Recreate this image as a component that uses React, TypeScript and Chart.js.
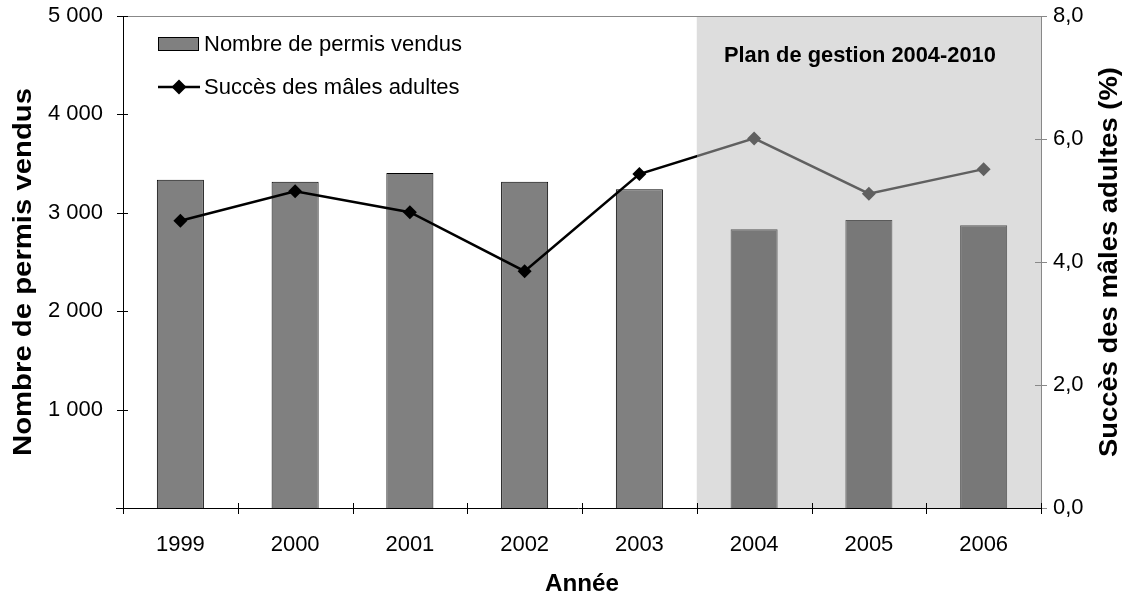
import React, { useEffect, useRef } from 'react';
import { Chart, registerables } from 'chart.js';

Chart.register(...registerables);

// ---- Data ----
const years = ['1999', '2000', '2001', '2002', '2003', '2004', '2005', '2006'];
const permisVendus = [3335, 3315, 3405, 3315, 3240, 2832, 2928, 2873];
const succesMales = [4.67, 5.15, 4.81, 3.85, 5.43, 6.01, 5.11, 5.51];
const leftMax = 5000;
const leftStep = 1000;
const rightMax = 8;
const rightStep = 2;
const seriesLabels = ['Nombre de permis vendus', 'Succès des mâles adultes'];
const xTitle = 'Année';
const yTitle = 'Nombre de permis vendus';
const y1Title = 'Succès des mâles adultes (%)';
const planLabel = 'Plan de gestion 2004-2010';
const planStartIndex = 5; // 2004

const FONT = '"Liberation Sans", Arial, sans-serif';
const BAR_OUT = '#808080';
const BAR_IN = '#787878';
const LINE_OUT = '#000000';
const LINE_IN = '#606060';

const barColors = years.map((_, i) => (i >= planStartIndex ? BAR_IN : BAR_OUT));
const barBorders = years.map((_, i) => (i >= planStartIndex ? '#5a5a5a' : '#000000'));
const pointColors = years.map((_, i) => (i >= planStartIndex ? LINE_IN : LINE_OUT));

function boundaryX(chart: any) {
  const x = chart.scales.x;
  return (x.getPixelForValue(planStartIndex - 1) + x.getPixelForValue(planStartIndex)) / 2;
}

function drawDiamond(ctx: CanvasRenderingContext2D, cx: number, cy: number, r: number, color: string) {
  ctx.beginPath();
  ctx.moveTo(cx, cy - r);
  ctx.lineTo(cx + r, cy);
  ctx.lineTo(cx, cy + r);
  ctx.lineTo(cx - r, cy);
  ctx.closePath();
  ctx.fillStyle = color;
  ctx.fill();
}

function drawText(
  ctx: CanvasRenderingContext2D,
  text: string,
  x: number,
  y: number,
  font: string,
  rotation: number,
  targetWidth?: number
) {
  ctx.save();
  ctx.font = font;
  ctx.fillStyle = '#000';
  ctx.textAlign = 'center';
  ctx.textBaseline = 'middle';
  ctx.translate(x, y);
  ctx.rotate(rotation);
  if (targetWidth) {
    const w = ctx.measureText(text).width;
    ctx.scale(targetWidth / w, 1);
  }
  ctx.fillText(text, 0, 0);
  ctx.restore();
}

const decor = {
  id: 'decor',
  beforeDatasetsDraw(chart: any) {
    const { ctx, chartArea: a } = chart;
    const bx = boundaryX(chart);
    ctx.save();
    ctx.fillStyle = '#dddddd';
    ctx.fillRect(bx, a.top, a.right - bx, a.bottom - a.top);
    ctx.restore();
  },
  afterDraw(chart: any) {
    const { ctx, chartArea: a, scales } = chart;
    const x = scales.x;
    const y = scales.y;
    const y1 = scales.y1;
    ctx.save();
    ctx.lineWidth = 1;
    // top and right borders (gray)
    ctx.strokeStyle = '#888888';
    ctx.beginPath();
    ctx.moveTo(a.left, a.top + 0.5);
    ctx.lineTo(a.right, a.top + 0.5);
    ctx.moveTo(a.right + 0.5, a.top);
    ctx.lineTo(a.right + 0.5, a.bottom);
    ctx.stroke();
    // right axis ticks
    y1.ticks.forEach((t: any) => {
      const py = Math.round(y1.getPixelForValue(t.value)) + 0.5;
      ctx.beginPath();
      ctx.moveTo(a.right - 6, py);
      ctx.lineTo(a.right + 6, py);
      ctx.stroke();
    });
    // left axis + bottom axis (black)
    ctx.strokeStyle = '#000000';
    ctx.beginPath();
    ctx.moveTo(a.left + 0.5, a.top);
    ctx.lineTo(a.left + 0.5, a.bottom);
    ctx.moveTo(a.left - 7, a.bottom + 0.5);
    ctx.lineTo(a.right, a.bottom + 0.5);
    ctx.stroke();
    y.ticks.forEach((t: any) => {
      const py = Math.round(y.getPixelForValue(t.value)) + 0.5;
      ctx.beginPath();
      ctx.moveTo(a.left - 6, py);
      ctx.lineTo(a.left + 5, py);
      ctx.stroke();
    });
    const half = (x.getPixelForValue(1) - x.getPixelForValue(0)) / 2;
    for (let i = 0; i <= years.length; i++) {
      const px = Math.round(x.getPixelForValue(i) - half) + 0.5;
      ctx.beginPath();
      ctx.moveTo(px, a.bottom - 5);
      ctx.lineTo(px, a.bottom + 6);
      ctx.stroke();
    }
    // legend
    ctx.fillStyle = BAR_OUT;
    ctx.fillRect(158, 37, 40, 13);
    ctx.strokeStyle = '#000';
    ctx.strokeRect(158.5, 37.5, 40, 13);
    ctx.font = `22px ${FONT}`;
    ctx.fillStyle = '#000';
    ctx.textAlign = 'left';
    ctx.textBaseline = 'middle';
    ctx.fillText(seriesLabels[0], 204, 45);
    ctx.lineWidth = 2.5;
    ctx.beginPath();
    ctx.moveTo(158, 87);
    ctx.lineTo(200, 87);
    ctx.stroke();
    drawDiamond(ctx, 179, 87, 7.5, '#000');
    ctx.fillStyle = '#000';
    ctx.fillText(seriesLabels[1], 204, 88);
    ctx.restore();

    // annotation
    drawText(ctx, planLabel, (boundaryX(chart) + a.right) / 2 - 9, 56, `bold 22px ${FONT}`, 0, 272);
    // axis titles
    drawText(ctx, xTitle, (a.left + a.right) / 2, 585, `bold 23px ${FONT}`, 0, 74);
    drawText(ctx, yTitle, 24, 272, `bold 26px ${FONT}`, -Math.PI / 2, 368);
    drawText(ctx, y1Title, 1110, 262, `bold 25px ${FONT}`, -Math.PI / 2, 390);
  },
};

function zeroPad(s: any) {
  s.paddingTop = 0;
  s.paddingBottom = 0;
  s.paddingLeft = 0;
  s.paddingRight = 0;
}

export default function App() {
  const ref = useRef<HTMLCanvasElement>(null);
  useEffect(() => {
    if (!ref.current) return;
    const chart = new Chart(ref.current, {
      type: 'bar',
      data: {
        labels: years,
        datasets: [
          {
            type: 'bar',
            label: seriesLabels[0],
            data: permisVendus,
            yAxisID: 'y',
            backgroundColor: barColors,
            borderColor: barBorders,
            borderWidth: 1,
            barPercentage: 0.41,
            categoryPercentage: 1,
            order: 1,
          },
          {
            type: 'line',
            label: seriesLabels[1],
            data: succesMales,
            yAxisID: 'y1',
            borderWidth: 2.5,
            borderColor: (c: any) => {
              const ch = c.chart;
              const a = ch.chartArea;
              if (!a || !ch.scales.x) return LINE_OUT;
              const bx = boundaryX(ch);
              const f = Math.min(1, Math.max(0, (bx - a.left) / (a.right - a.left)));
              const g = ch.ctx.createLinearGradient(a.left, 0, a.right, 0);
              g.addColorStop(0, LINE_OUT);
              g.addColorStop(f, LINE_OUT);
              g.addColorStop(f, LINE_IN);
              g.addColorStop(1, LINE_IN);
              return g;
            },
            pointStyle: 'rectRot',
            pointRadius: 7,
            pointBackgroundColor: pointColors,
            pointBorderColor: pointColors,
            pointBorderWidth: 0,
            tension: 0,
            order: 0,
          } as any,
        ],
      },
      options: {
        responsive: false,
        animation: false,
        devicePixelRatio: 1,
        layout: { padding: { top: 16, left: 0, right: 0, bottom: 0 } },
        plugins: { legend: { display: false }, tooltip: { enabled: false } },
        scales: {
          x: {
            type: 'category',
            offset: true,
            grid: { display: false, drawTicks: false },
            border: { display: false },
            ticks: { font: { family: FONT, size: 22 }, color: '#000', padding: 24, maxRotation: 0 },
            afterFit: (s: any) => {
              s.height = 92;
              zeroPad(s);
            },
          },
          y: {
            position: 'left',
            min: 0,
            max: leftMax,
            grid: { display: false, drawTicks: false },
            border: { display: false },
            ticks: {
              stepSize: leftStep,
              font: { family: FONT, size: 22 },
              color: '#000',
              padding: 20,
              callback: (v: any) => (v === 0 ? '' : String(v).replace(/\B(?=(\d{3})+(?!\d))/g, ' ')),
            },
            afterFit: (s: any) => {
              s.width = 123;
              zeroPad(s);
            },
          },
          y1: {
            position: 'right',
            min: 0,
            max: rightMax,
            grid: { display: false, drawTicks: false },
            border: { display: false },
            ticks: {
              stepSize: rightStep,
              font: { family: FONT, size: 22 },
              color: '#000',
              padding: 12,
              callback: (v: any) => Number(v).toFixed(1).replace('.', ','),
            },
            afterFit: (s: any) => {
              s.width = 88;
              zeroPad(s);
            },
          },
        },
      },
      plugins: [decor],
    } as any);
    return () => chart.destroy();
  }, []);
  return (
    <div style={{ position: 'absolute', left: 0, top: 0, width: 1129, height: 600, background: '#fff' }}>
      <canvas ref={ref} width={1129} height={600} style={{ display: 'block' }} />
    </div>
  );
}
